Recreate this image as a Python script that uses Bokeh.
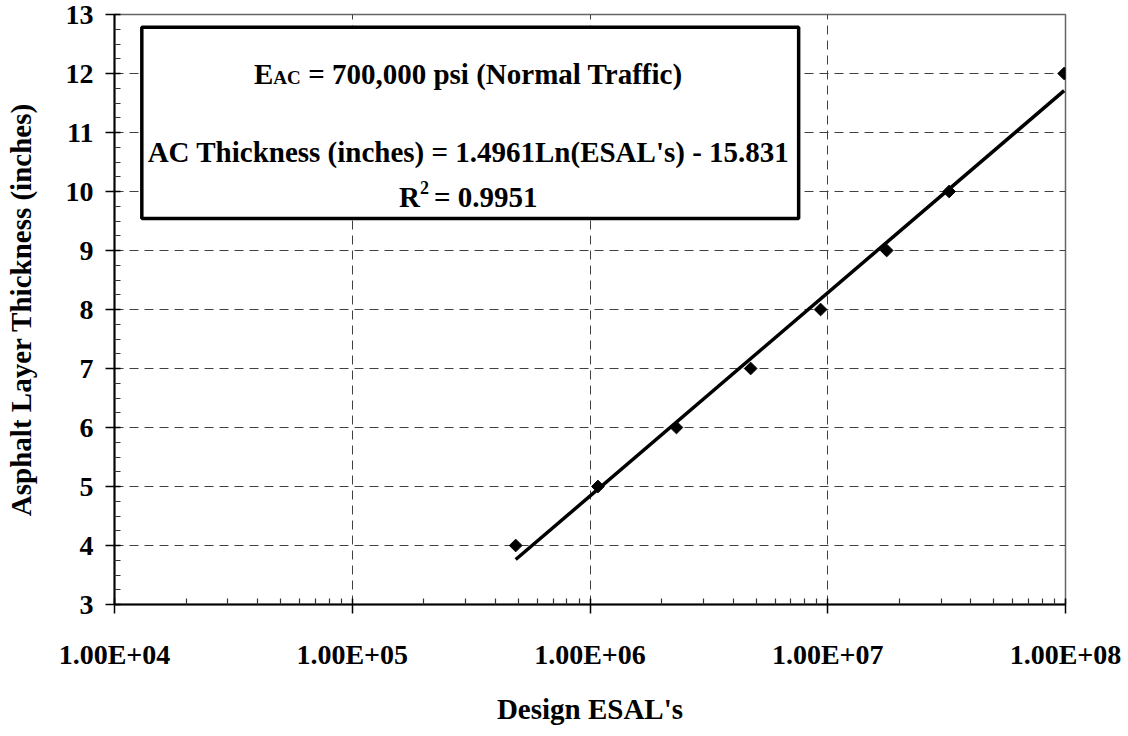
import numpy as np
from bokeh.plotting import figure
from bokeh.models import Range1d, FixedTicker
from bokeh.core.properties import value
from bokeh.embed import file_html
from bokeh.resources import INLINE

# ---- data ----
esals = [4.87e5, 1.08e6, 2.31e6, 4.74e6, 9.33e6, 1.77e7, 3.24e7, 9.87e7]
thickness = [4, 5, 6, 7, 8, 9, 10, 12]
trend_slope = 1.4961
trend_intercept = -15.831
x_ticks = [1e4, 1e5, 1e6, 1e7, 1e8]
x_tick_labels = ["1.00E+04", "1.00E+05", "1.00E+06", "1.00E+07", "1.00E+08"]
y_ticks = [3, 4, 5, 6, 7, 8, 9, 10, 11, 12, 13]

FONT = "'Liberation Serif', 'Times New Roman', serif"

p = figure(width=1128, height=736, x_axis_type="log",
           x_range=Range1d(1e4, 1e8), y_range=Range1d(3, 13),
           output_backend="svg", toolbar_location=None, title=None,
           min_border_left=114, min_border_right=63,
           min_border_top=14, min_border_bottom=132)
p.background_fill_color = "white"
p.border_fill_color = "white"
p.outline_line_color = "#666666"
p.outline_line_width = 1.5

minor_x = [a * 10.0 ** k for k in range(4, 8) for a in range(2, 10)]
xa = p.xaxis[0]
xa.ticker = FixedTicker(ticks=x_ticks, minor_ticks=minor_x)
xa.major_label_overrides = {t: l for t, l in zip(x_ticks, x_tick_labels)}
minor_y = [y + q / 4 for y in y_ticks[:-1] for q in (1, 2, 3)]
ya = p.yaxis[0]
ya.ticker = FixedTicker(ticks=y_ticks, minor_ticks=minor_y)

for ax in (xa, ya):
    ax.axis_line_color = "black"
    ax.axis_line_width = 2
    ax.major_tick_line_color = "black"
    ax.major_tick_line_width = 1.5
    ax.major_tick_in = 6
    ax.major_tick_out = 9
    ax.minor_tick_line_color = "#333333"
    ax.minor_tick_line_width = 1.2
    ax.minor_tick_in = 6
    ax.minor_tick_out = 0
    ax.major_label_text_font = FONT
    ax.major_label_text_font_style = "bold"
    ax.major_label_text_font_size = "28px"
    ax.major_label_text_color = "black"
    ax.axis_label_text_font = FONT
    ax.axis_label_text_font_style = "bold"
    ax.axis_label_text_font_size = "29px"
    ax.axis_label_text_color = "black"

xa.axis_label = "Design ESAL's"
xa.major_label_standoff = 25
xa.axis_label_standoff = 20
ya.axis_label = "Asphalt Layer Thickness (inches)"
ya.major_label_standoff = 12
ya.axis_label_standoff = 26

p.xgrid.ticker = FixedTicker(ticks=x_ticks[1:-1])
p.ygrid.ticker = FixedTicker(ticks=y_ticks[1:-1])
for g in (p.xgrid, p.ygrid):
    g.grid_line_color = "#404040"
    g.grid_line_width = 1
    g.grid_line_dash = "9 6"

# ---- trend line (stated log fit) ----
tx = [min(esals), max(esals)]
ty = [trend_slope * np.log(v) + trend_intercept for v in tx]
p.line(tx, ty, line_color="black", line_width=3.5)

# ---- data points ----
p.scatter(esals, thickness, marker="square", angle=np.pi / 4, size=9,
          fill_color="black", line_color="black")

# ---- annotation box ----
p.quad(left=[10 ** 4.1149], right=[10 ** 6.8776], top=[12.785], bottom=[9.542],
       fill_color="white", line_color="black", line_width=3.5)

xc = 10 ** 5.4889
tstyle = dict(text_font=value(FONT), text_font_style="bold",
              text_color="black", text_baseline="alphabetic")
# line 1: E_AC = 700,000 psi (Normal Traffic)
p.text(x=[xc], y=[11.988], text=["E"], x_offset=-214.6, text_align="left",
       text_font_size="29px", **tstyle)
p.text(x=[xc], y=[11.988], text=["AC"], x_offset=-195.3, y_offset=3,
       text_align="left", text_font_size="19px", **tstyle)
p.text(x=[xc], y=[11.988], text=["= 700,000 psi (Normal Traffic)"], x_offset=-160.3,
       text_align="left", text_font_size="29px", **tstyle)
# line 2: equation
p.text(x=[xc], y=[10.666], text=["AC Thickness (inches) = 1.4961Ln(ESAL's) - 15.831"],
       text_align="center", text_font_size="29px", **tstyle)
# line 3: R^2
p.text(x=[xc], y=[9.903], text=["R"], x_offset=-69.6, text_align="left",
       text_font_size="29px", **tstyle)
p.text(x=[xc], y=[9.903], text=["2"], x_offset=-48.5, y_offset=-10,
       text_align="left", text_font_size="18px", **tstyle)
p.text(x=[xc], y=[9.903], text=["= 0.9951"], x_offset=-34.4, text_align="left",
       text_font_size="29px", **tstyle)

open("out.html", "w").write(file_html(p, INLINE))
